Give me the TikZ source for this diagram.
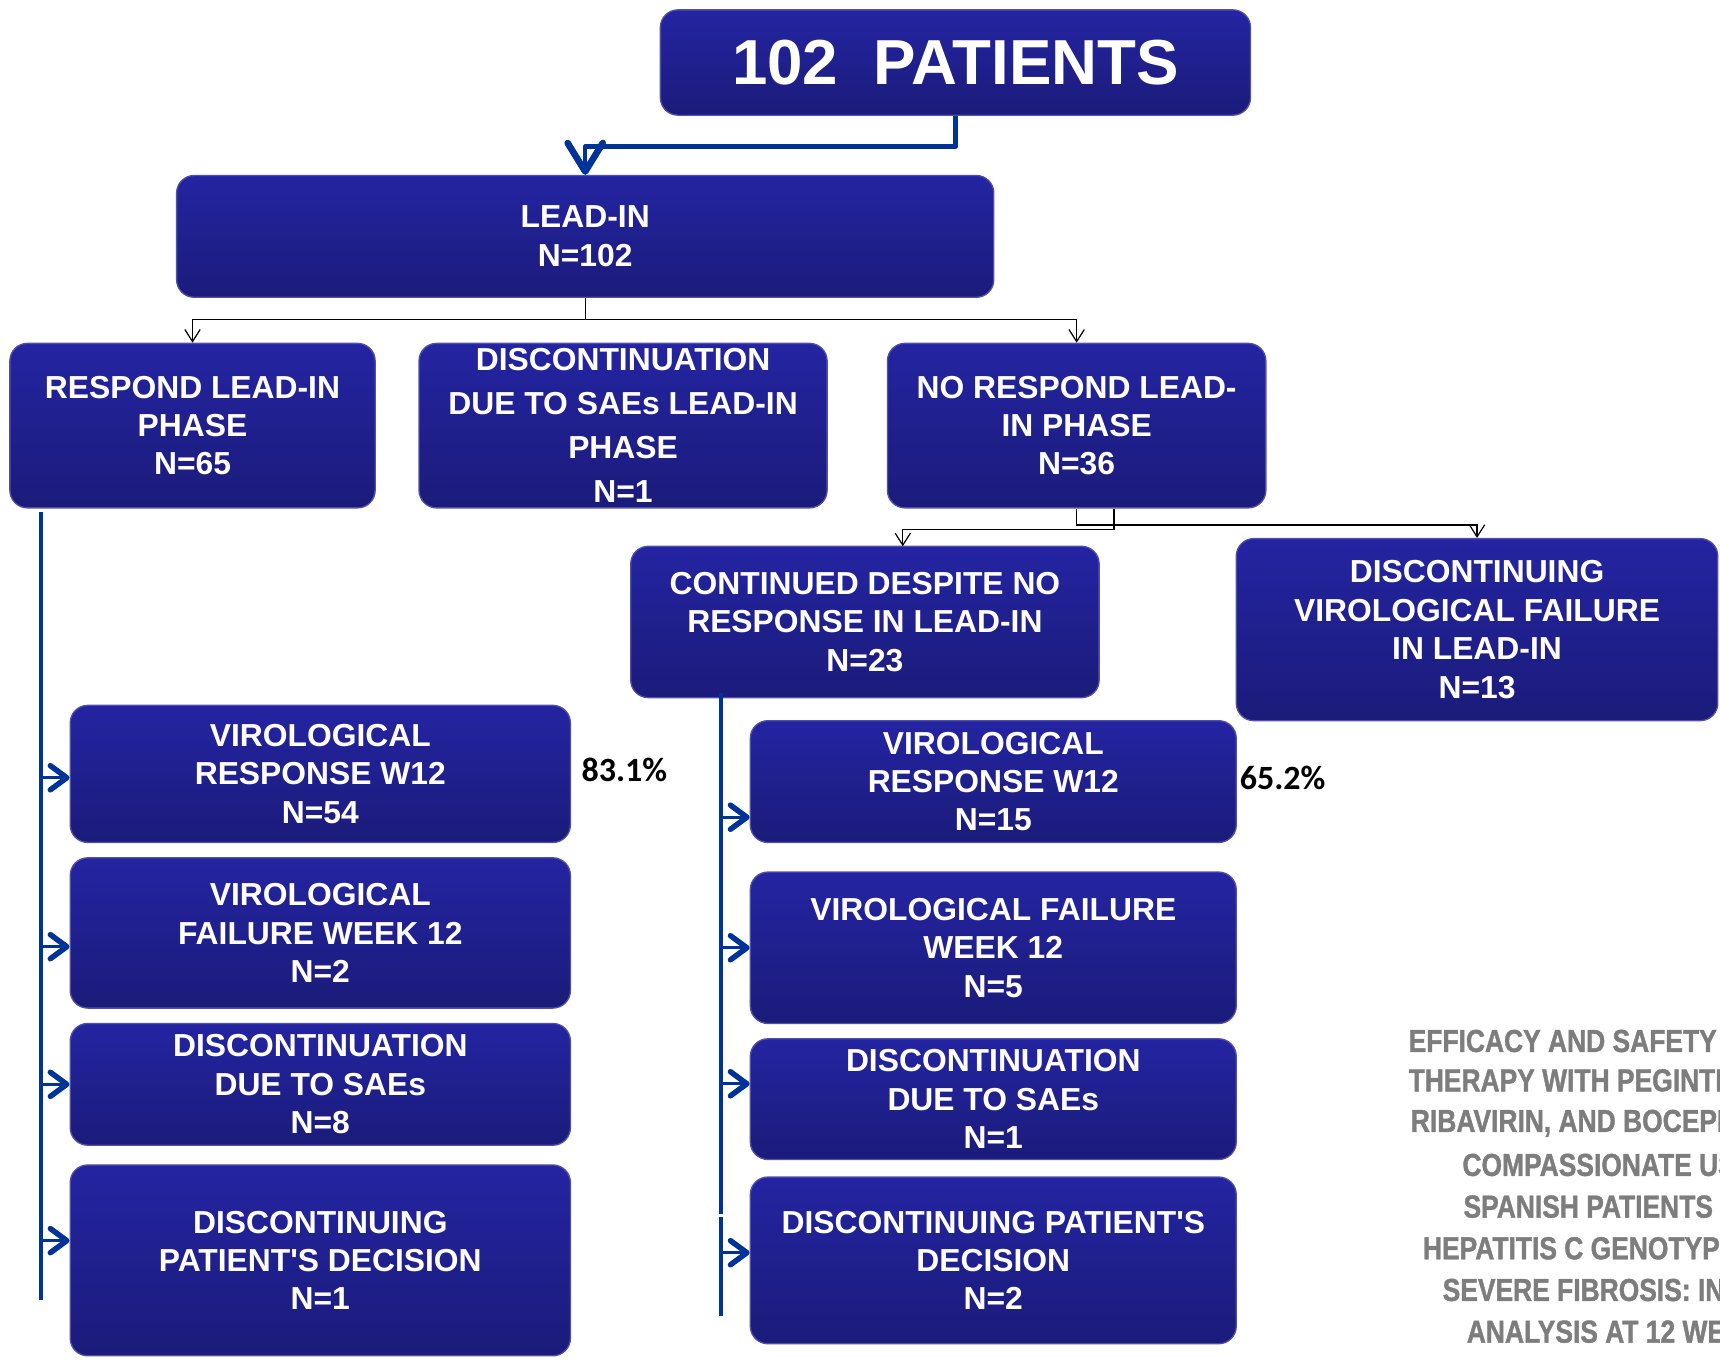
\documentclass[tikz,border=0pt]{standalone}
\usepackage{fontspec}
\setmainfont{Liberation Sans}
\newfontfamily\boxfamily{Liberation Sans}
\newfontfamily\grayfamily{Liberation Sans}[FakeStretch=0.83,FakeBold=1.2]
\newfontfamily\pctfamily{Carlito}
\usetikzlibrary{arrows.meta,calc}
\definecolor{boxtop}{RGB}{36,36,162}
\definecolor{boxbot}{RGB}{27,27,122}
\definecolor{boxline}{RGB}{80,80,170}
\definecolor{conblue}{RGB}{0,51,153}
\definecolor{graytxt}{RGB}{125,125,125}
\begin{document}
\begin{tikzpicture}[x=1pt,y=-1pt,
  box/.style={rounded corners=16pt, draw=boxline, line width=1.2pt,
    top color=boxtop, bottom color=boxbot, text=white, align=center,
    inner sep=0pt, font=\boxfamily\bfseries\fontsize{29}{35}\selectfont},
  wide/.style={font=\boxfamily\bfseries\fontsize{29}{40}\selectfont},
  bigarrow/.style={draw=conblue, line width=4pt, line join=round,
    -{Straight Barb[length=26pt, width=32pt, line width=6pt 0, round]}},
  thinarrow/.style={draw=black, line width=1.1pt, -{Straight Barb[length=11pt, width=14pt]}},
  bluearrow/.style={draw=conblue, line width=3pt, -{Straight Barb[length=15pt, width=22pt, line width=5pt 0, round]}},
  blueline/.style={draw=conblue, line width=3.5pt},
  pct/.style={font=\pctfamily\bfseries\fontsize{31}{35}\selectfont, anchor=west, inner sep=0pt},
  graytext/.style={font=\grayfamily\bfseries\fontsize{29}{35}\selectfont, text=graytxt, anchor=west, inner sep=0pt}]
\useasboundingbox (0,0) rectangle (1568,1239);
\clip (0,0) rectangle (1568,1239);

% boxes
\node[box, minimum width=538pt, minimum height=96pt, font=\boxfamily\bfseries\fontsize{58}{60}\selectfont] (top) at (871,57) {102~~PATIENTS};
\node[box, minimum width=745pt, minimum height=111pt] (lead) at (533.5,215.5) {LEAD-IN\\N=102};
\node[box, minimum width=333pt, minimum height=150pt] (respond) at (175.5,388) {RESPOND LEAD-IN\\PHASE\\N=65};
\node[box, wide, minimum width=372pt, minimum height=150pt] (disc1) at (568,388) {DISCONTINUATION\\DUE TO SAEs LEAD-IN\\PHASE\\N=1};
\node[box, minimum width=345pt, minimum height=150pt] (norespond) at (981.5,388) {NO RESPOND LEAD-\\IN PHASE\\N=36};
\node[box, minimum width=427pt, minimum height=138pt] (cont) at (788.5,567) {CONTINUED DESPITE NO\\RESPONSE IN LEAD-IN\\N=23};
\node[box, minimum width=439pt, minimum height=166pt] (discvf) at (1346.5,574) {DISCONTINUING\\VIROLOGICAL FAILURE\\IN LEAD-IN\\N=13};

\node[box, minimum width=456pt, minimum height=125pt] (L1) at (292,705.5) {VIROLOGICAL\\RESPONSE W12\\N=54};
\node[box, minimum width=456pt, minimum height=137pt] (L2) at (292,850.5) {VIROLOGICAL\\FAILURE WEEK 12\\N=2};
\node[box, minimum width=456pt, minimum height=111pt] (L3) at (292,988.5) {DISCONTINUATION\\DUE TO SAEs\\N=8};
\node[box, minimum width=456pt, minimum height=174pt] (L4) at (292,1149) {DISCONTINUING\\PATIENT'S DECISION\\N=1};

\node[box, minimum width=443pt, minimum height=111pt] (R1) at (905.5,712.5) {VIROLOGICAL\\RESPONSE W12\\N=15};
\node[box, minimum width=443pt, minimum height=138pt] (R2) at (905.5,864) {VIROLOGICAL FAILURE\\WEEK 12\\N=5};
\node[box, minimum width=443pt, minimum height=110pt] (R3) at (905.5,1002) {DISCONTINUATION\\DUE TO SAEs\\N=1};
\node[box, minimum width=443pt, minimum height=152pt] (R4) at (905.5,1149) {DISCONTINUING PATIENT'S\\DECISION\\N=2};

% percentages
\node[pct] (p1) at (530,702) {83.1\%};
\node[pct] (p2) at (1130,709) {65.2\%};

% gray title text (cut off at the right edge, as in the source)
\node[graytext] (g1) at (1284,949) {EFFICACY AND SAFETY OF};
\node[graytext] (g2) at (1284,987) {THERAPY WITH PEGINTERFERON,};
\node[graytext] (g3) at (1286,1024) {RIBAVIRIN, AND BOCEPREVIR};
\node[graytext] (g4) at (1333,1062) {COMPASSIONATE USE};
\node[graytext] (g5) at (1334,1100) {SPANISH PATIENTS WITH};
\node[graytext] (g6) at (1297,1138) {HEPATITIS C GENOTYPE};
\node[graytext] (g7) at (1315,1176) {SEVERE FIBROSIS: INTERIM};
\node[graytext] (g8) at (1337,1214) {ANALYSIS AT 12 WEEKS};

% top connector
\draw[bigarrow] (top.south) -- ++(0,28) -| (lead.north);

% lead-in split
\coordinate (j1) at ($(lead.south)+(0,20)$);
\draw[line width=1.1pt] (lead.south) -- (j1);
\draw[thinarrow] (j1) -| (respond.north);
\draw[thinarrow] (j1) -| (norespond.north);

% no-respond split
\coordinate (nr2) at ($(norespond.south)+(34,0)$);
\coordinate (contin) at (823,498);
\draw[thinarrow] (norespond.south) -- ++(0,15) -| (discvf.north);
\draw[thinarrow] (nr2) -- ++(0,19) -| (contin);

% left trunk
\coordinate (lt1) at (37,467);
\coordinate (lt2) at (37,1185);
\draw[blueline] (lt1) -- (lt2);
\draw[bluearrow] ([yshift=-3.5pt]L1.west -| lt1) -- ([yshift=-3.5pt]L1.west);
\draw[bluearrow] ([yshift=-12.5pt]L2.west -| lt1) -- ([yshift=-12.5pt]L2.west);
\draw[bluearrow] (L3.west -| lt1) -- (L3.west);
\draw[bluearrow] ([yshift=18pt]L4.west -| lt1) -- ([yshift=18pt]L4.west);

% middle trunk (with its small break)
\coordinate (mt1) at (657,632);
\coordinate (mtb1) at (657,1107);
\coordinate (mtb2) at (657,1109);
\coordinate (mt2) at (657,1200);
\draw[blueline] (mt1) -- (mtb1);
\draw[blueline] (mtb2) -- (mt2);
\draw[bluearrow] ([yshift=-32.5pt]R1.west -| mt1) -- ([yshift=-32.5pt]R1.west);
\draw[bluearrow] (R2.west -| mt1) -- (R2.west);
\draw[bluearrow] ([yshift=14pt]R3.west -| mt1) -- ([yshift=14pt]R3.west);
\draw[bluearrow] ([yshift=7pt]R4.west -| mt1) -- ([yshift=7pt]R4.west);
\end{tikzpicture}
\end{document}
